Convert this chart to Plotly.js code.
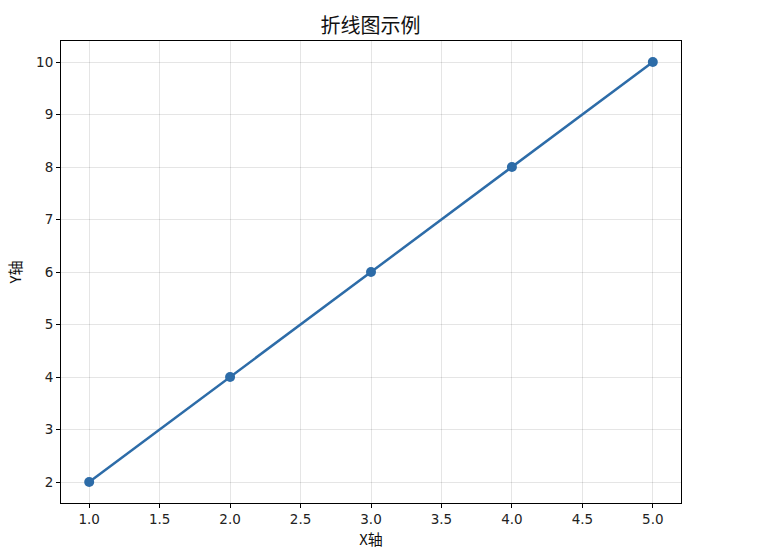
<!DOCTYPE html>
<html>
<head>
<meta charset="utf-8">
<script src="https://cdn.plot.ly/plotly-3.0.1.min.js"></script>
<style>
  html, body { margin: 0; padding: 0; background: #fff; }
  #plot { width: 761px; height: 560px; }
</style>
</head>
<body>
<div id="plot"></div>
<script>
const xs = [1, 2, 3, 4, 5]
const ys = [2, 4, 6, 8, 10]
const xTicks = [1.0, 1.5, 2.0, 2.5, 3.0, 3.5, 4.0, 4.5, 5.0]
const yTicks = [2, 3, 4, 5, 6, 7, 8, 9, 10]

const tickFont = {family: "DejaVu Sans", size: 13.5, color: "#222"}
const cjk = "Noto Sans CJK SC, DejaVu Sans"

const trace = {
    x: xs,
    y: ys,
    type: "scatter",
    mode: "lines+markers",
    line: {color: "#2d6ca8", width: 2.5},
    marker: {color: "#2d6ca8", size: 10},
    hoverinfo: "x+y"
}

const axisCommon = {
    showline: true,
    mirror: true,
    linecolor: "#000",
    linewidth: 1,
    ticks: "outside",
    ticklen: 4,
    tickwidth: 1,
    tickcolor: "#000",
    showgrid: true,
    gridcolor: "rgba(0,0,0,0.1)",
    gridwidth: 1,
    zeroline: false,
    tickfont: tickFont
}

const layout = {
    width: 761,
    height: 560,
    margin: {l: 61, r: 80, t: 41, b: 57},
    paper_bgcolor: "#fff",
    plot_bgcolor: "#fff",
    showlegend: false,
    title: {
        text: "折线图示例",
        font: {family: cjk, size: 20, color: "#111"},
        x: 0.487,
        xanchor: "center",
        y: 0.953,
        yanchor: "middle"
    },
    xaxis: Object.assign({}, axisCommon, {
        range: [0.8, 5.2],
        tickvals: xTicks,
        ticktext: xTicks.map(v => v.toFixed(1)),
        title: {text: "X轴", font: {family: cjk, size: 15, color: "#111"}, standoff: 8}
    }),
    yaxis: Object.assign({}, axisCommon, {
        range: [1.6, 10.4],
        tickvals: yTicks,
        ticktext: yTicks.map(String),
        title: {text: "Y轴", font: {family: cjk, size: 15, color: "#111"}, standoff: 10}
    })
}

Plotly.newPlot("plot", [trace], layout, {displayModeBar: false, staticPlot: true})
</script>
</body>
</html>
